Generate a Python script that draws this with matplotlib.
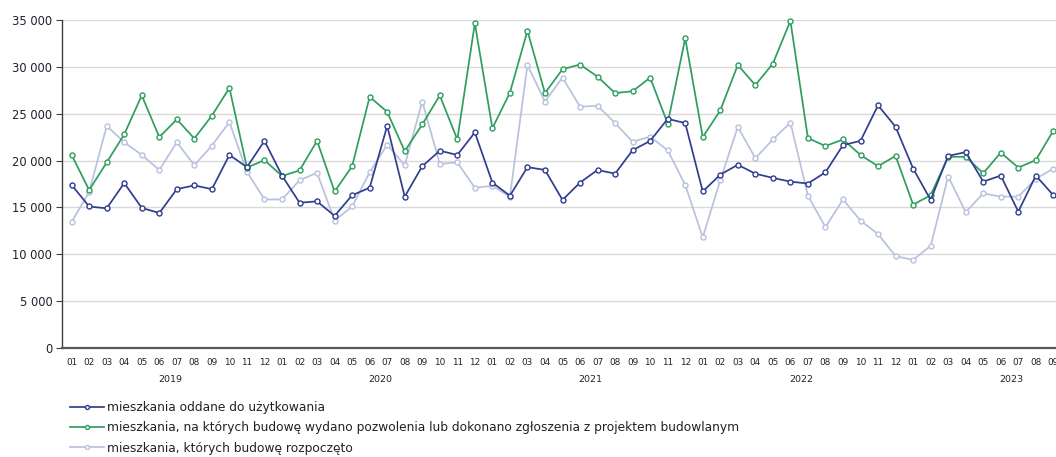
import matplotlib
matplotlib.use("Agg")
import matplotlib.pyplot as plt
import matplotlib.transforms as mtransforms
from matplotlib.ticker import FuncFormatter

plt.rcParams['font.family'] = ['DejaVu Sans']

years = ["2019", "2020", "2021", "2022", "2023"]
months = ["01", "02", "03", "04", "05", "06", "07", "08", "09", "10", "11", "12"]
n_months_last_year = 9

oddane = [
    17400, 15100, 14900, 17600, 14950, 14400, 16950, 17350, 16950, 20600, 19300, 22100,
    18400, 15500, 15650, 14100, 16300, 17100, 23700, 16150, 19400, 21050, 20600, 23000,
    17650, 16250, 19300, 19000, 15800, 17650, 19000, 18600, 21100, 22100, 24450, 24000,
    16700, 18500, 19550, 18600, 18150, 17750, 17550, 18750, 21650, 22100, 25900, 23600,
    19150, 15800, 20500, 20900, 17750, 18400, 14550, 18400, 16300,
]
pozwolenia = [
    20600, 16850, 19800, 22800, 26950, 22500, 24400, 22350, 24800, 27750, 19250, 20050,
    18350, 18950, 22100, 16700, 19400, 26800, 25200, 21000, 23850, 26950, 22250, 34650,
    23450, 27250, 33850, 27200, 29750, 30250, 28950, 27200, 27400, 28850, 23950, 33050,
    22500, 25350, 30200, 28050, 30350, 34900, 22400, 21550, 22250, 20600, 19400, 20500,
    15300, 16300, 20400, 20400, 18650, 20850, 19250, 20050, 23200,
]
rozpoczete = [
    13450, 16650, 23700, 21950, 20600, 19000, 21950, 19500, 21600, 24100, 18800, 15850,
    15850, 17900, 18700, 13600, 15100, 18750, 21700, 19500, 26300, 19650, 19800, 17100,
    17300, 16150, 30200, 26300, 28850, 25750, 25850, 24000, 22000, 22550, 21100, 17400,
    11800, 17900, 23600, 20250, 22250, 24050, 16250, 12900, 15850, 13600, 12150, 9800,
    9400, 10900, 18300, 14500, 16500, 16150, 16150, 18050, 19150,
]
labels = [
    "mieszkania oddane do użytkowania",
    "mieszkania, na których budowę wydano pozwolenia lub dokonano zgłoszenia z projektem budowlanym",
    "mieszkania, których budowę rozpoczęto",
]

month_labels = months * (len(years) - 1) + months[:n_months_last_year]
x = list(range(len(month_labels)))

W, H = 1056, 457
fig = plt.figure(figsize=(W / 100, H / 100), dpi=100)
ax = fig.add_axes([62 / W, 1 - 348 / H, (1063 - 62) / W, (348 - 20) / H])

c_blue = "#2F3E8E"
c_green = "#2E9E5E"
c_light = "#B9C1DF"

common = dict(marker="o", markersize=3.6, markerfacecolor="white",
              markeredgewidth=1.0, linewidth=1.25, clip_on=False)
ax.plot(x, oddane, color=c_blue, markeredgecolor=c_blue, zorder=5, label=labels[0], **common)
ax.plot(x, pozwolenia, color=c_green, markeredgecolor=c_green, zorder=4, label=labels[1], **common)
ax.plot(x, rozpoczete, color=c_light, markeredgecolor=c_light, zorder=3, label=labels[2], **common)

ax.set_xlim(-0.55, len(x) - 0.45)
ax.set_ylim(0, 35000)
ax.set_yticks(range(0, 35001, 5000))
ax.yaxis.set_major_formatter(FuncFormatter(lambda v, p: f"{int(v):,}".replace(",", " ")))
ax.grid(axis="y", color="#D9D9D9", linewidth=1.0, zorder=0)
ax.set_axisbelow(True)

for s in ["top", "right"]:
    ax.spines[s].set_visible(False)
ax.spines["left"].set_color("#404040")
ax.spines["left"].set_linewidth(1.0)
ax.spines["bottom"].set_color("#595959")
ax.spines["bottom"].set_linewidth(1.6)

ax.tick_params(axis="y", length=4, width=0.8, color="#404040", pad=3,
               labelsize=8.3, labelcolor="#1F1F2E")
ax.set_xticks(x)
ax.set_xticklabels(month_labels)
ax.tick_params(axis="x", length=0, pad=7.5, labelsize=6.4, labelcolor="#222222")

trans = mtransforms.blended_transform_factory(ax.transData, ax.transAxes)
for i, yr in enumerate(years):
    ax.text(i * 12 + 5.6, -31 / 328, yr, transform=trans, ha="center", va="center",
            fontsize=6.8, color="#222222")

leg = fig.legend(loc="upper left", bbox_to_anchor=(70 / W, 1 - 401 / H),
                 frameon=False, fontsize=8.8, handlelength=2.8, handletextpad=0.25,
                 labelspacing=0.6, borderpad=0, borderaxespad=0, markerscale=0.8)
for t in leg.get_texts():
    t.set_color("#222222")

fig.savefig("out.png", dpi=100)
